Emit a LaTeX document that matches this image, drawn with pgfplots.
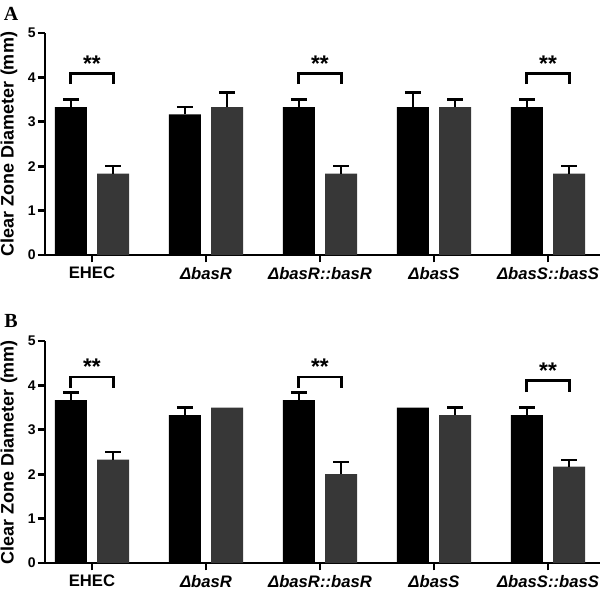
\documentclass[border=0pt]{standalone}
\usepackage{pgfplots}
\pgfplotsset{compat=1.18}
\usepackage{fontspec}
\setmainfont{Liberation Sans}
\newfontfamily\serifb{Liberation Serif}
\definecolor{bargray}{RGB}{55,55,55}
\tikzset{stars/.style={font=\bfseries\fontsize{17}{17}\selectfont}}

\pgfplotsset{
 panel/.style={
  scale only axis, width=416.25pt, height=166.5pt,
  xmin=-0.412, xmax=4.456, ymin=0, ymax=5,
  axis x line=bottom, axis y line=left,
  axis line style={line width=2.2pt, -},
  ytick={0,1,2,3,4,5},
  xtick={0,1,2,3,4},
  xticklabels={EHEC, \textit{Δbas}\textit{R}, \textit{ΔbasR::basR}, \textit{ΔbasS}, \textit{ΔbasS::basS}},
  tick align=outside, major tick length=5.5pt,
  tick style={line width=2pt, black},
  /pgf/number format/assume math mode=true,
  yticklabel style={font=\bfseries\fontsize{10.5}{10.5}\selectfont, xshift=2pt},
  xticklabel style={font=\bfseries\fontsize{12.5}{12.5}\selectfont, yshift=0pt},
  every axis y label/.style={at={(axis description cs:-0.065,0.5)}, rotate=90, anchor=center},
  ylabel={Clear Zone Diameter (mm)},
  ylabel style={font=\bfseries\fontsize{13.5}{13.5}\selectfont},
  clip=false,
 },
 bars/.style={ybar, bar shift=0pt, bar width=0.28, draw=none},
 errs/.style={draw=none, mark=none, forget plot,
   error bars/.cd, y dir=plus, y explicit,
   error bar style={draw=black, line width=1.5pt},
   error mark options={draw=black, line width=1.8pt, mark size=6pt, rotate=90}},
}

\begin{document}
\begin{tikzpicture}
\useasboundingbox (-33.75pt,-250.5pt) rectangle (416.25pt,191.25pt);

% Panel A
\begin{axis}[panel, at={(0pt,0pt)}, anchor=south west]
\addplot[bars, fill=black] coordinates {(-0.185,3.33) (0.815,3.17) (1.815,3.33) (2.815,3.33) (3.815,3.33)};
\addplot[bars, fill=bargray] coordinates {(0.185,1.83) (1.185,3.33) (2.185,1.83) (3.185,3.33) (4.185,1.83)};
\addplot[errs] coordinates {(-0.185,3.33) +- (0,0.17) (0.815,3.17) +- (0,0.16) (1.815,3.33) +- (0,0.17) (2.815,3.33) +- (0,0.33) (3.815,3.33) +- (0,0.17)};
\addplot[errs] coordinates {(0.185,1.83) +- (0,0.17) (1.185,3.33) +- (0,0.33) (2.185,1.83) +- (0,0.17) (3.185,3.33) +- (0,0.17) (4.185,1.83) +- (0,0.17)};
\draw[line width=2.2pt] (axis cs:-0.185,3.85) -- (axis cs:-0.185,4.09) -- (axis cs:0.185,4.09) -- (axis cs:0.185,3.85);
\node[stars] at (axis cs:0,4.3) {**};
\draw[line width=2.2pt] (axis cs:1.815,3.85) -- (axis cs:1.815,4.09) -- (axis cs:2.185,4.09) -- (axis cs:2.185,3.85);
\node[stars] at (axis cs:2,4.3) {**};
\draw[line width=2.2pt] (axis cs:3.815,3.85) -- (axis cs:3.815,4.09) -- (axis cs:4.185,4.09) -- (axis cs:4.185,3.85);
\node[stars] at (axis cs:4,4.3) {**};
\end{axis}

% Panel B
\begin{axis}[panel, at={(0pt,-231pt)}, anchor=south west]
\addplot[bars, fill=black] coordinates {(-0.185,3.67) (0.815,3.33) (1.815,3.67) (2.815,3.5) (3.815,3.33)};
\addplot[bars, fill=bargray] coordinates {(0.185,2.33) (1.185,3.5) (2.185,2.0) (3.185,3.33) (4.185,2.17)};
\addplot[errs] coordinates {(-0.185,3.67) +- (0,0.17) (0.815,3.33) +- (0,0.17) (1.815,3.67) +- (0,0.17) (3.815,3.33) +- (0,0.17)};
\addplot[errs] coordinates {(0.185,2.33) +- (0,0.17) (2.185,2.0) +- (0,0.28) (3.185,3.33) +- (0,0.17) (4.185,2.17) +- (0,0.15)};
\draw[line width=2.2pt] (axis cs:-0.185,3.94) -- (axis cs:-0.185,4.19) -- (axis cs:0.185,4.19) -- (axis cs:0.185,3.94);
\node[stars] at (axis cs:0,4.41) {**};
\draw[line width=2.2pt] (axis cs:1.815,3.94) -- (axis cs:1.815,4.19) -- (axis cs:2.185,4.19) -- (axis cs:2.185,3.94);
\node[stars] at (axis cs:2,4.41) {**};
\draw[line width=2.2pt] (axis cs:3.815,3.85) -- (axis cs:3.815,4.12) -- (axis cs:4.185,4.12) -- (axis cs:4.185,3.85);
\node[stars] at (axis cs:4,4.33) {**};
\end{axis}

\node[font=\serifb\bfseries\fontsize{15}{15}\selectfont] at (-25.5pt,180.75pt) {A};
\node[font=\serifb\bfseries\fontsize{15}{15}\selectfont] at (-25.5pt,-49.5pt) {B};
\end{tikzpicture}
\end{document}
